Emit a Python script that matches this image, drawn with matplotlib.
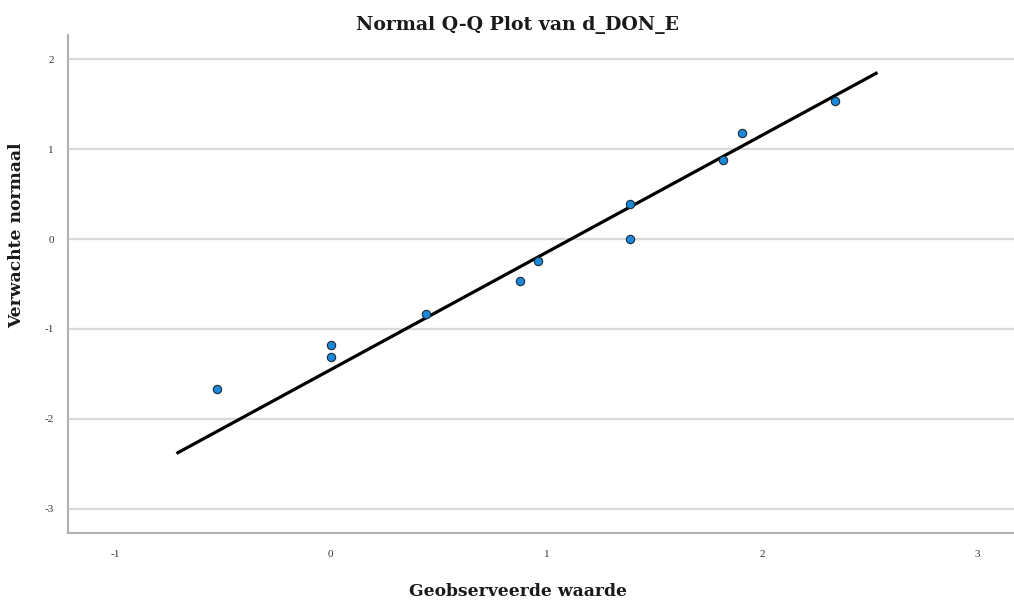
import matplotlib.pyplot as plt
import numpy as np

observed = [-0.53, 0.0, 0.0, 0.44, 0.88, 0.96, 1.39, 1.39, 1.82, 1.91, 2.34]
expected = [-1.67, -1.18, -1.31, -0.83, -0.47, -0.24, 0.39, 0.0, 0.88, 1.18, 1.53]

# reference line endpoints
line_x = [-0.71, 2.53]
line_mean = 1.115
line_sd = 0.768

xticks = [-1, 0, 1, 2, 3]
yticks = [-3, -2, -1, 0, 1, 2]

plt.rcParams['font.family'] = ['Liberation Serif', 'DejaVu Serif']
plt.rcParams['axes.unicode_minus'] = False

fig = plt.figure(figsize=(10.14, 6.01), dpi=100)
ax = fig.add_axes([0.067, 0.113, 0.933, 0.829])

for yt in yticks:
    ax.axhline(yt, color='#d9d9d9', linewidth=1.6, zorder=1)

lx = np.array(line_x)
ax.plot(lx, (lx - line_mean) / line_sd, color='black', linewidth=2.3, zorder=2)
ax.scatter(observed, expected, s=36, color='#1a8ad8', edgecolors='#1c2a3a',
           linewidths=0.8, zorder=3)

ax.set_xlim(-1.22, 3.17)
ax.set_ylim(-3.27, 2.27)
ax.set_xticks(xticks)
ax.set_yticks(yticks)
ax.tick_params(length=0, labelsize=8, colors='#333333', pad=10)
ax.tick_params(axis='x', pad=12)

for side in ['top', 'right']:
    ax.spines[side].set_visible(False)
for side in ['left', 'bottom']:
    ax.spines[side].set_color('#b0b0b0')
    ax.spines[side].set_linewidth(1.5)

label_font = dict(family='DejaVu Serif', fontsize=12.3, fontweight='bold', color='#1a1a1a')
ax.set_xlabel('Geobserveerde waarde', **label_font)
ax.xaxis.set_label_coords(0.476, -0.1)
ax.set_ylabel('Verwachte normaal', **label_font)
ax.yaxis.set_label_coords(-0.045, 0.598)

fig.text(517 / 1014, 1 - 25 / 601, 'Normal Q-Q Plot van d_DON_E', family='DejaVu Serif',
         fontsize=13.6, fontweight='bold', color='#1a1a1a', ha='center', va='center')

fig.savefig('out.png', dpi=100, facecolor='white')
